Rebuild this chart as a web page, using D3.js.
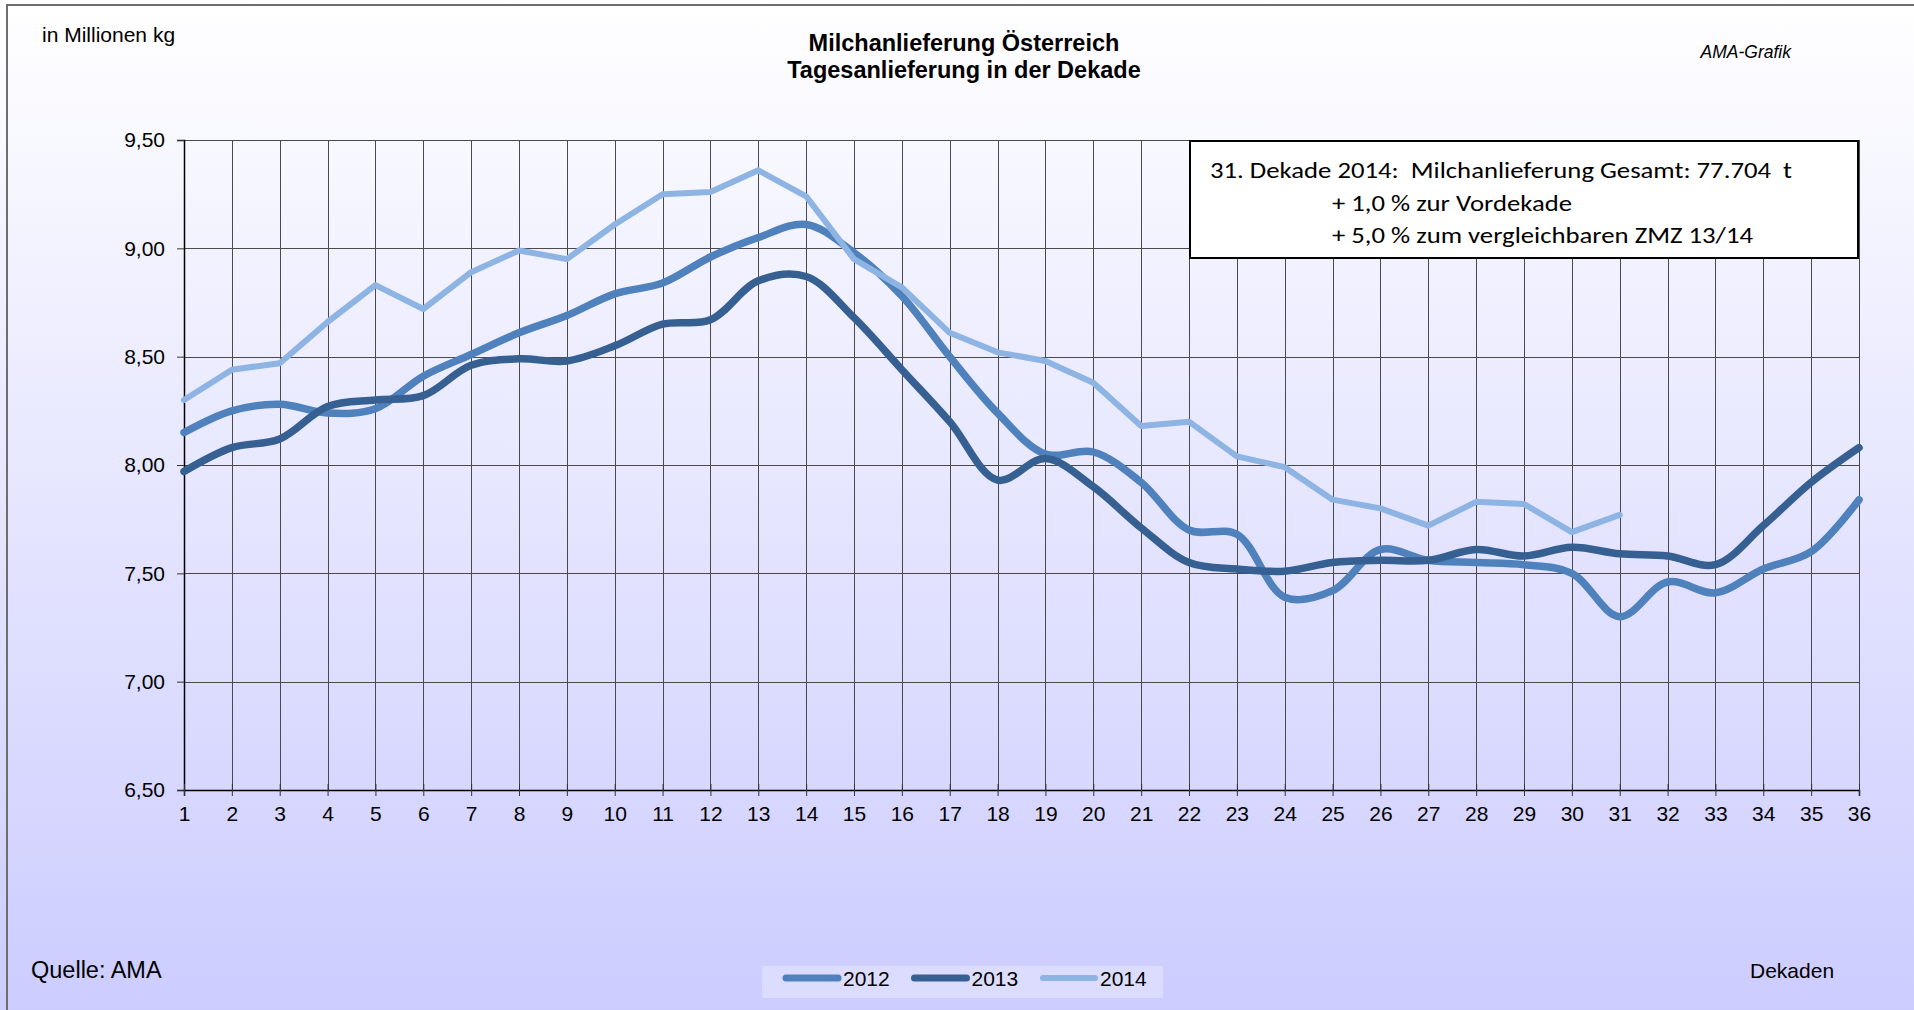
<!DOCTYPE html>
<html>
<head>
<meta charset="utf-8">
<script src="https://cdn.jsdelivr.net/npm/d3@7"></script>
<style>
  body { margin: 0; background: #fff; }
  text { font-family: Arial, "Liberation Sans", sans-serif; fill: #000; }
  .grid line { stroke: #4a4a4a; stroke-width: 1; shape-rendering: crispEdges; }
</style>
</head>
<body>
<script>
var width = 1914,
  height = 1010;

// Dekaden 1..36
var dekaden = d3.range(1, 37);
var yTicks = [6.5, 7.0, 7.5, 8.0, 8.5, 9.0, 9.5];

var years = ["2012", "2013", "2014"];
var colors = ["#4f81bd", "#376092", "#8eb4e3"];

var values2012 = [8.15, 8.25, 8.28, 8.24, 8.26, 8.41, 8.51, 8.61, 8.69, 8.79, 8.84, 8.96,
  9.05, 9.11, 8.98, 8.78, 8.50, 8.24, 8.05, 8.06, 7.92, 7.70, 7.68, 7.39,
  7.42, 7.61, 7.56, 7.55, 7.54, 7.50, 7.30, 7.46, 7.41, 7.52, 7.60, 7.84];
var values2013 = [7.97, 8.08, 8.12, 8.27, 8.30, 8.32, 8.46, 8.49, 8.48, 8.55, 8.65, 8.67,
  8.85, 8.87, 8.68, 8.44, 8.20, 7.93, 8.03, 7.90, 7.71, 7.55, 7.52, 7.51,
  7.55, 7.56, 7.56, 7.61, 7.58, 7.62, 7.59, 7.58, 7.54, 7.72, 7.92, 8.08];
var values2014 = [8.30, 8.44, 8.47, 8.66, 8.83, 8.72, 8.89, 8.99, 8.95, 9.11, 9.25, 9.26,
  9.36, 9.24, 8.95, 8.82, 8.61, 8.52, 8.48, 8.38, 8.18, 8.20, 8.04, 7.99,
  7.84, 7.80, 7.72, 7.83, 7.82, 7.69, 7.77];

var noteLines = [
  "31. Dekade 2014:  Milchanlieferung Gesamt: 77.704  t",
  "+ 1,0 % zur Vordekade",
  "+ 5,0 % zum vergleichbaren ZMZ 13/14"
];

var svg = d3.select("body").append("svg")
  .attr("width", width)
  .attr("height", height);

// hintergrund verlauf
var defs = svg.append("defs");
var grad = defs.append("linearGradient")
  .attr("id", "bg").attr("x1", 0).attr("y1", 0).attr("x2", 0).attr("y2", 1);
grad.append("stop").attr("offset", "0%").attr("stop-color", "#ffffff");
grad.append("stop").attr("offset", "100%").attr("stop-color", "#ccccff");

svg.append("rect")
  .attr("width", width).attr("height", height)
  .attr("fill", "url(#bg)");

svg.append("rect")
  .attr("x", 7).attr("y", 5)
  .attr("width", 2000).attr("height", 2000)
  .attr("fill", "none")
  .attr("stroke", "#6e6e6e")
  .attr("stroke-width", 2);

var x = d3.scaleLinear().domain([1, 36]).range([184, 1859]);
var y = d3.scaleLinear().domain([6.5, 9.5]).range([790, 140]);

var fmt = d3.formatLocale({ decimal: ",", thousands: ".", grouping: [3], currency: ["", " €"] }).format(".2f");

// gitter
var grid = svg.append("g").attr("class", "grid");
grid.selectAll(".v")
  .data(dekaden)
  .enter().append("line")
  .attr("x1", d => Math.round(x(d)) + 0.5)
  .attr("x2", d => Math.round(x(d)) + 0.5)
  .attr("y1", y(9.5))
  .attr("y2", y(6.5));
grid.selectAll(".h")
  .data(yTicks)
  .enter().append("line")
  .attr("x1", x(1))
  .attr("x2", x(36))
  .attr("y1", d => Math.round(y(d)) + 0.5)
  .attr("y2", d => Math.round(y(d)) + 0.5);

// achsen
var yAxis = svg.append("g")
  .attr("transform", "translate(" + x(1) + ",0)")
  .call(d3.axisLeft(y).tickValues(yTicks).tickFormat(fmt).tickSize(7).tickPadding(12));
var xAxis = svg.append("g")
  .attr("transform", "translate(0," + y(6.5) + ")")
  .call(d3.axisBottom(x).tickValues(dekaden).tickFormat(d3.format("d")).tickSize(6).tickPadding(10));

[yAxis, xAxis].forEach(a => {
  a.select(".domain").attr("stroke", "#000").attr("stroke-width", 1.5);
  a.selectAll(".tick line").attr("stroke", "#333");
  a.selectAll("text").attr("font-size", 21).attr("fill", "#000")
    .attr("font-family", "Arial, 'Liberation Sans', sans-serif");
});
xAxis.selectAll(".tick line").attr("y1", -6);

// linien
var series = [values2012, values2013, values2014];
var smooth = d3.line()
  .x((d, i) => x(dekaden[i]))
  .y(d => y(d))
  .curve(d3.curveCatmullRom);
var straight = d3.line()
  .x((d, i) => x(dekaden[i]))
  .y(d => y(d));

svg.append("g").selectAll("path")
  .data(series)
  .enter().append("path")
  .attr("d", (d, i) => i < 2 ? smooth(d) : straight(d))
  .attr("fill", "none")
  .attr("stroke", (d, i) => colors[i])
  .attr("stroke-width", (d, i) => i < 2 ? 7.5 : 6)
  .attr("stroke-linejoin", "round")
  .attr("stroke-linecap", "round");

// infobox
svg.append("rect")
  .attr("x", 1190).attr("y", 141)
  .attr("width", 668).attr("height", 117)
  .attr("fill", "#fff")
  .attr("stroke", "#000")
  .attr("stroke-width", 2);

var noteX = [1210, 1332, 1332];
var noteLen = [582, 240, 421];
svg.append("g").selectAll("text")
  .data(noteLines)
  .enter().append("text")
  .attr("x", (d, i) => noteX[i])
  .attr("y", (d, i) => 178 + i * 32.5)
  .attr("textLength", (d, i) => noteLen[i])
  .attr("lengthAdjust", "spacingAndGlyphs")
  .style("font-family", "Carlito, Calibri, Lato, sans-serif")
  .style("white-space", "pre")
  .attr("font-size", 21.5)
  .text(d => d);

// titel
svg.append("text")
  .attr("x", 964).attr("y", 51)
  .attr("text-anchor", "middle")
  .attr("font-size", 23.5).attr("font-weight", "bold")
  .text("Milchanlieferung Österreich");
svg.append("text")
  .attr("x", 964).attr("y", 78)
  .attr("text-anchor", "middle")
  .attr("font-size", 23.5).attr("font-weight", "bold")
  .text("Tagesanlieferung in der Dekade");

svg.append("text")
  .attr("x", 42).attr("y", 42)
  .attr("font-size", 21)
  .text("in Millionen kg");

svg.append("text")
  .attr("x", 1791).attr("y", 58)
  .attr("text-anchor", "end")
  .attr("font-size", 17.5).attr("font-style", "italic")
  .text("AMA-Grafik");

svg.append("text")
  .attr("x", 31).attr("y", 978)
  .attr("font-size", 23.5)
  .text("Quelle: AMA");

svg.append("text")
  .attr("x", 1750).attr("y", 978)
  .attr("font-size", 21)
  .text("Dekaden");

// legende
svg.append("rect")
  .attr("x", 762).attr("y", 966)
  .attr("width", 401).attr("height", 32)
  .attr("fill", "#dcdcff");

var legend = svg.append("g").selectAll("g")
  .data(years)
  .enter().append("g")
  .attr("transform", (d, i) => "translate(" + (783 + i * 128.5) + ",978)");
legend.append("line")
  .attr("x1", 3).attr("x2", 55)
  .attr("stroke", (d, i) => colors[i])
  .attr("stroke-width", (d, i) => i < 2 ? 7 : 6)
  .attr("stroke-linecap", "round");
legend.append("text")
  .attr("x", 60).attr("y", 8)
  .attr("font-size", 21)
  .text(d => d);
</script>
</body>
</html>
